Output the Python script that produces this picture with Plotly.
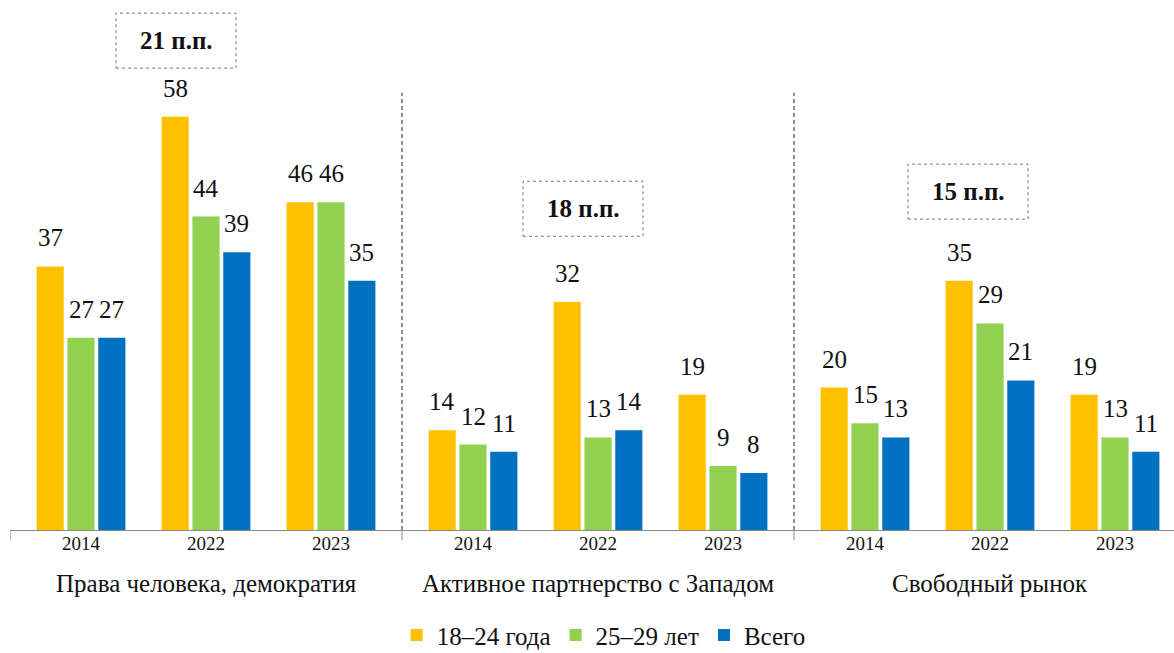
import plotly.graph_objects as go

groups = ["Права человека, демократия", "Активное партнерство с Западом", "Свободный рынок"]
years = ["2014", "2022", "2023"]
young = [37, 58, 46, 14, 32, 19, 20, 35, 19]
mid = [27, 44, 46, 12, 13, 9, 15, 29, 13]
total = [27, 39, 35, 11, 14, 8, 13, 21, 11]
series_names = ["18–24 года", "25–29 лет", "Всего"]
colors = ["#FFC000", "#92D050", "#0070C0"]
gap_labels = ["21 п.п.", "18 п.п.", "15 п.п."]
gap_box_dx = [-0.24, -0.12, -0.176]   # box offset from group centre
gap_box_y = [68.7, 45.1, 47.5]

FONT = "Liberation Serif, DejaVu Serif, Times New Roman, serif"
group_w = 3.136          # width of one group in category units (extra gap between groups)
bargap = 0.26
bar_slot = (1 - bargap) / 3

# category positions
xpos = []
for g in range(len(groups)):
    for j in range(len(years)):
        xpos.append(g * group_w + (group_w - 3) / 2 + 0.5 + j)

fig = go.Figure()
annotations = []
for k, (vals, name, col) in enumerate(zip([young, mid, total], series_names, colors)):
    fig.add_trace(go.Bar(x=xpos, y=vals, name=name, marker_color=col, marker_line_width=0))
    for x, v in zip(xpos, vals):
        annotations.append(dict(x=x + (k - 1) * bar_slot, y=v, xref="x", yref="y", text=str(v),
                                showarrow=False, yanchor="bottom", yshift=13,
                                font=dict(family=FONT, size=25, color="#111")))

shapes = []
# dashed separators and boundary ticks
for g in range(len(groups)):
    xb = g * group_w
    shapes.append(dict(type="line", xref="x", yref="paper", x0=xb, x1=xb, y0=0, y1=-0.02,
                       line=dict(color="#888", width=1)))
    if g > 0:
        shapes.append(dict(type="line", xref="x", yref="y", x0=xb, x1=xb, y0=0, y1=61.4,
                           line=dict(color="#222", width=1, dash="4px,3px")))
    # group labels
    annotations.append(dict(x=xb + group_w / 2, y=-0.102, xref="x", yref="paper", text=groups[g],
                            showarrow=False, yanchor="middle",
                            font=dict(family=FONT, size=25, color="#111")))
    # gap boxes
    cx = xb + group_w / 2 + gap_box_dx[g]
    cy = gap_box_y[g]
    shapes.append(dict(type="rect", xref="x", yref="y", x0=cx - 0.48, x1=cx + 0.48,
                       y0=cy - 3.86, y1=cy + 3.86, line=dict(color="#777", width=1, dash="dot")))
    annotations.append(dict(x=cx, y=cy, xref="x", yref="y", text="<b>" + gap_labels[g] + "</b>",
                            showarrow=False, font=dict(family=FONT, size=25, color="#111")))

fig.update_layout(
    width=1174, height=653,
    margin=dict(l=10, r=0, t=10, b=123),
    plot_bgcolor="white", paper_bgcolor="white",
    barmode="group", bargap=bargap, bargroupgap=0.12,
    font=dict(family=FONT, size=19, color="#111"),
    xaxis=dict(range=[0, 9.312], tickvals=xpos, ticktext=years * 3, ticks="",
               showline=True, linecolor="#888", linewidth=1, showgrid=False, zeroline=False,
               tickfont=dict(family=FONT, size=19), ticklabelstandoff=-4),
    yaxis=dict(range=[0, 73], visible=False, showgrid=False),
    legend=dict(orientation="h", x=0.51, xanchor="center", xref="paper",
                y=0.027, yanchor="middle", yref="container",
                font=dict(family=FONT, size=25), traceorder="normal"),
    shapes=shapes, annotations=annotations,
)
fig.write_html("out.html", config={"displayModeBar": False},
               post_script="document.body.style.margin='0';document.body.style.fontSize='0';"
                           "document.body.style.lineHeight='0';document.body.style.overflow='hidden';")
